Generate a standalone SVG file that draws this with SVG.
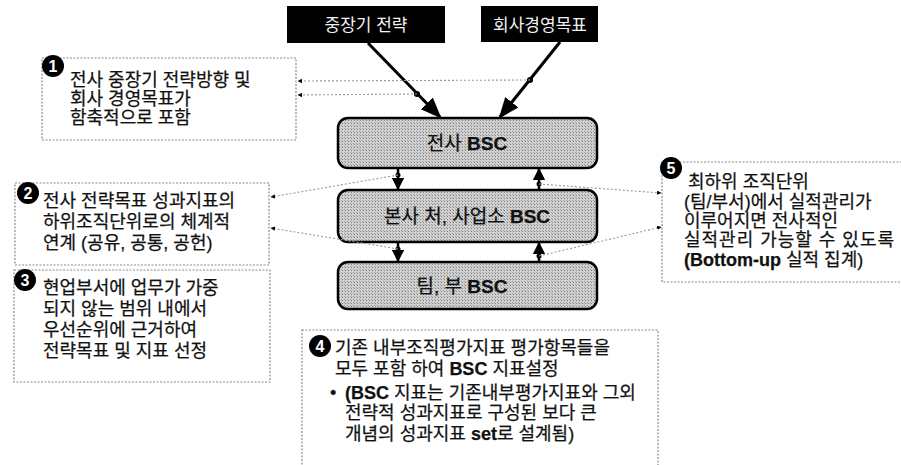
<svg xmlns="http://www.w3.org/2000/svg" width="901" height="465" viewBox="0 0 901 465">
<style>
  text { font-family: "Liberation Sans", "Noto Sans CJK KR", sans-serif; font-size: 18px; fill: #111; stroke: #111; stroke-width: 0.25; }
  .b { font-weight: bold; }
  .note { fill: #fff; stroke: #8a8a8a; stroke-width: 1.2; stroke-dasharray: 2 1.5; }
  .badge { fill: #000; }
  .num { fill: #fff; stroke: none; font-weight: bold; font-size: 16px; text-anchor: middle; }
  .bsc { stroke: #000; stroke-width: 2.5; fill: url(#hatch); }
  .dark { fill: #000; }
  .darkt { fill: #f2f2f2; stroke: none; font-size: 17px; text-anchor: middle; }
  .ctr { text-anchor: middle; font-size: 19px; }
  .thick { stroke: #000; stroke-width: 3; fill: none; }
  .mid { stroke: #000; stroke-width: 2.5; fill: none; }
  .dot { stroke: #9a9a9a; stroke-width: 1.1; stroke-dasharray: 2 2; fill: none; }
</style>
<defs>
  <marker id="ah" viewBox="0 0 10 10" refX="9" refY="5" markerWidth="5" markerHeight="5" orient="auto" markerUnits="strokeWidth">
    <path d="M0,0 L10,5 L0,10 z" fill="#000"/>
  </marker>
  <marker id="ahs" viewBox="0 0 10 10" refX="9" refY="5" markerWidth="4" markerHeight="4" orient="auto" markerUnits="strokeWidth">
    <path d="M0,0 L10,5 L0,10 z" fill="#000"/>
  </marker>
  <marker id="ahd" viewBox="0 0 10 10" refX="9" refY="5" markerWidth="7" markerHeight="7" orient="auto" markerUnits="strokeWidth">
    <path d="M0,1 L10,5 L0,9 z" fill="#000"/>
  </marker>
  <pattern id="hatch" width="3" height="3" patternUnits="userSpaceOnUse">
    <rect width="3" height="3" fill="#d0d0d0"/>
    <rect width="1" height="1" fill="#7e7e7e"/>
    <rect x="2" y="2" width="1" height="1" fill="#a0a0a0"/>
  </pattern>
</defs>

<g id="top-strategy">
  <rect class="dark" x="287" y="6" width="158" height="37"/>
  <text class="darkt" x="366" y="31">중장기 전략</text>
</g>
<g id="top-goal">
  <rect class="dark" x="481" y="6" width="117" height="36"/>
  <text class="darkt" x="540" y="31">회사경영목표</text>
</g>

<g id="bsc-company">
  <rect class="bsc" x="338" y="118" width="259" height="50" rx="10"/>
  <text class="ctr" x="467" y="150">전사 <tspan class="b">BSC</tspan></text>
</g>
<g id="bsc-division">
  <rect class="bsc" x="338" y="190" width="259" height="52" rx="10"/>
  <text class="ctr" x="467" y="223">본사 처, 사업소 <tspan class="b">BSC</tspan></text>
</g>
<g id="bsc-team">
  <rect class="bsc" x="338" y="262" width="259" height="47" rx="10"/>
  <text class="ctr" x="462" y="293">팀, 부 <tspan class="b">BSC</tspan></text>
</g>

<g id="note1">
  <rect class="note" x="42" y="58" width="254" height="82"/>
  <circle class="badge" cx="53" cy="66" r="11"/>
  <text class="num" x="53" y="72">1</text>
  <text x="70" y="86">전사 중장기 전략방향 및</text>
  <text x="70" y="105">회사 경영목표가</text>
  <text x="70" y="124">함축적으로 포함</text>
</g>

<g id="note2">
  <rect class="note" x="15" y="183" width="254" height="82"/>
  <circle class="badge" cx="28" cy="193" r="11"/>
  <text class="num" x="28" y="199">2</text>
  <text x="43" y="207">전사 전략목표 성과지표의</text>
  <text x="43" y="228">하위조직단위로의 체계적</text>
  <text x="43" y="249">연계 (공유, 공통, 공헌)</text>
</g>

<g id="note3">
  <rect class="note" x="14" y="270" width="256" height="112"/>
  <circle class="badge" cx="25" cy="280" r="11"/>
  <text class="num" x="25" y="286">3</text>
  <text x="43" y="294">현업부서에 업무가 가중</text>
  <text x="43" y="315">되지 않는 범위 내에서</text>
  <text x="43" y="336">우선순위에 근거하여</text>
  <text x="43" y="357">전략목표 및 지표 선정</text>
</g>

<g id="note4">
  <rect class="note" x="302" y="330" width="356" height="140"/>
  <circle class="badge" cx="320" cy="346" r="11"/>
  <text class="num" x="320" y="352">4</text>
  <text x="335" y="354">기존 내부조직평가지표 평가항목들을</text>
  <text x="335" y="375">모두 포함 하여 <tspan class="b">BSC</tspan> 지표설정</text>
  <text x="330" y="399">•</text>
  <text x="345" y="399"><tspan class="b">(BSC</tspan> 지표는 기존내부평가지표와 그외</text>
  <text x="345" y="419">전략적 성과지표로 구성된 보다 큰</text>
  <text x="345" y="440">개념의 성과지표 <tspan class="b">set</tspan>로 설계됨)</text>
</g>

<g id="note5">
  <rect class="note" x="662" y="162" width="241" height="120"/>
  <circle class="badge" cx="671" cy="168" r="11"/>
  <text class="num" x="671" y="174">5</text>
  <text x="688" y="188">최하위 조직단위</text>
  <text x="684" y="208">(팀/부서)에서 실적관리가</text>
  <text x="684" y="227">이루어지면 전사적인</text>
  <text x="684" y="246" textLength="210">실적관리 가능할 수 있도록</text>
  <text x="684" y="266"><tspan class="b">(Bottom-up</tspan> 실적 집계)</text>
</g>

<g id="connectors">
  <line class="thick" x1="368" y1="43" x2="440" y2="117" marker-end="url(#ahd)"/>
  <line class="thick" x1="560" y1="42" x2="500" y2="117" marker-end="url(#ahd)"/>
  <circle cx="417" cy="94" r="3" fill="#000"/>
  <circle cx="530" cy="80" r="3" fill="#000"/>

  <line class="mid" x1="398" y1="168" x2="398" y2="189" marker-end="url(#ah)"/>
  <circle cx="398" cy="175" r="2.5" fill="#000"/>
  <line class="mid" x1="539" y1="190" x2="539" y2="169" marker-end="url(#ah)"/>
  <circle cx="539" cy="184" r="2.5" fill="#000"/>
  <line class="mid" x1="398" y1="242" x2="398" y2="261" marker-end="url(#ah)"/>
  <circle cx="398" cy="249" r="2.5" fill="#000"/>
  <line class="mid" x1="539" y1="262" x2="539" y2="243" marker-end="url(#ah)"/>
  <circle cx="539" cy="256" r="2.5" fill="#000"/>

  <line class="dot" x1="530" y1="80" x2="298" y2="81" marker-end="url(#ahs)"/>
  <line class="dot" x1="417" y1="94" x2="298" y2="95" marker-end="url(#ahs)"/>
  <line class="dot" x1="398" y1="175" x2="271" y2="197" marker-end="url(#ahs)"/>
  <line class="dot" x1="398" y1="249" x2="271" y2="228" marker-end="url(#ahs)"/>
  <line class="dot" x1="539" y1="184" x2="661" y2="193" marker-end="url(#ahs)"/>
  <line class="dot" x1="539" y1="256" x2="661" y2="227" marker-end="url(#ahs)"/>
</g>
</svg>
